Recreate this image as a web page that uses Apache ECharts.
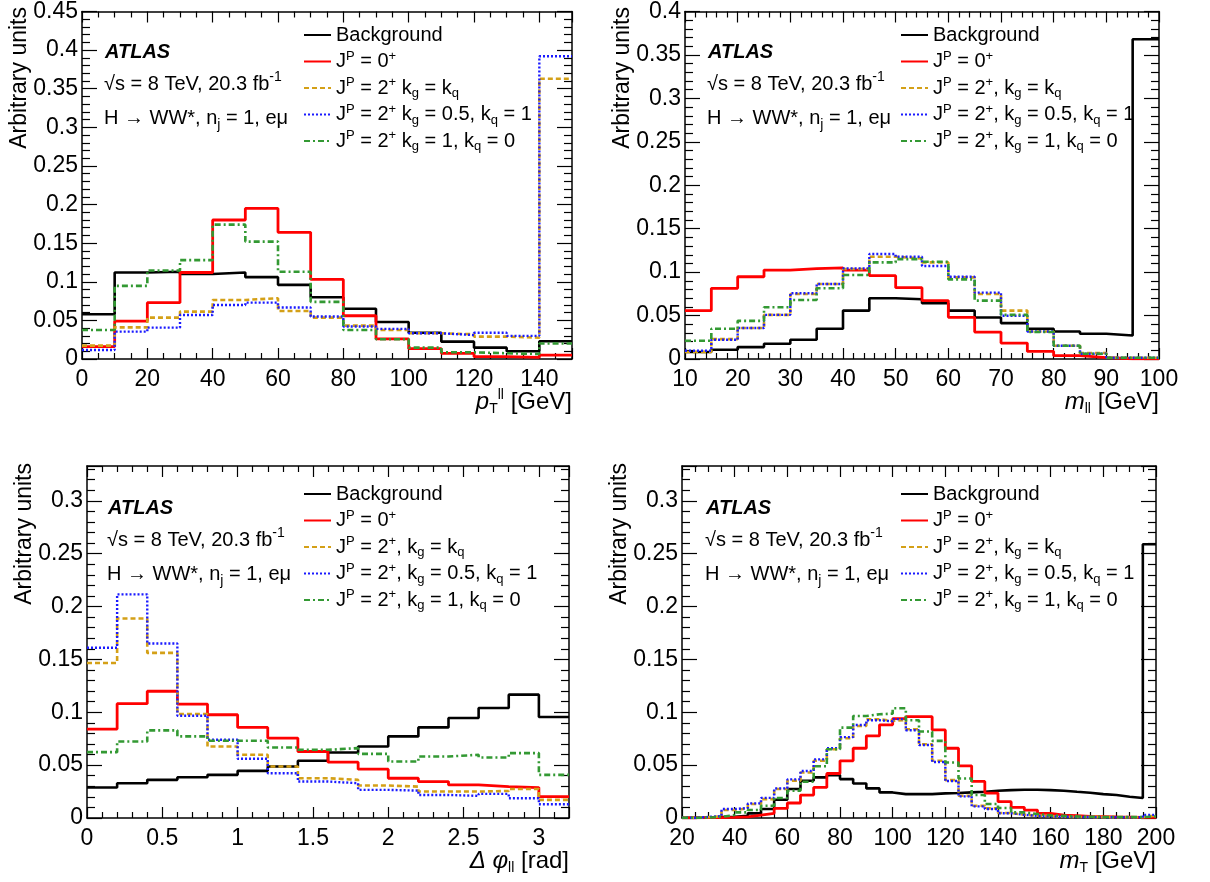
<!DOCTYPE html>
<html><head><meta charset="utf-8">
<script src="https://cdn.jsdelivr.net/npm/echarts@6/dist/echarts.min.js"></script>
<style>html,body{margin:0;padding:0;background:#fff}#c{width:1210px;height:882px}</style>
</head><body><div id="c"></div><script>
// ---------- data ----------
const ptEdges = [0,10,20,30,40,50,60,70,80,90,100,110,120,130,140,150];
const ptBkg  = [0.058,0.112,0.113,0.110,0.112,0.106,0.096,0.080,0.065,0.048,0.034,0.0225,0.0147,0.010,0.023];
const ptSM   = [0.016,0.049,0.073,0.112,0.180,0.195,0.164,0.103,0.056,0.026,0.0134,0.0074,0.003,0.002,0.005];
const ptKgKq = [0.0173,0.041,0.0536,0.0614,0.0765,0.0787,0.0622,0.0536,0.0432,0.0376,0.0333,0.032,0.029,0.0276,0.363];
const ptKg05 = [0.0117,0.0354,0.0406,0.057,0.070,0.073,0.0666,0.055,0.042,0.039,0.0333,0.031,0.034,0.030,0.392];
const ptKg1  = [0.0376,0.0947,0.1146,0.128,0.174,0.152,0.113,0.074,0.0376,0.0255,0.0147,0.0087,0.0074,0.0065,0.020];

const mllEdges = [10,15,20,25,30,35,40,45,50,55,60,65,70,75,80,85,90,95,100];
const mllBkg  = [0.008,0.0107,0.0137,0.0176,0.0221,0.0348,0.0557,0.070,0.0688,0.0642,0.0557,0.0477,0.0413,0.0348,0.0317,0.029,0.027,0.368];
const mllSM   = [0.0557,0.0814,0.0947,0.1024,0.104,0.105,0.1024,0.0959,0.0821,0.0672,0.048,0.031,0.0183,0.0087,0.0038,0.0015,0.0003,0.0002];
const mllKgKq = [0.008,0.0229,0.0356,0.0508,0.0749,0.0864,0.1036,0.1177,0.1158,0.1112,0.094,0.0749,0.0557,0.0317,0.0153,0.0069,0.0015,0.0015];
const mllKg05 = [0.0095,0.0221,0.0356,0.0508,0.0757,0.0864,0.1043,0.1208,0.1177,0.107,0.0947,0.0764,0.0497,0.0317,0.0153,0.0061,0.0015,0.0015];
const mllKg1  = [0.021,0.0348,0.0439,0.0596,0.068,0.0814,0.0967,0.1112,0.115,0.112,0.0917,0.0672,0.0508,0.031,0.0153,0.006,0.0015,0.0015];

const dphiEdges = [0,0.2,0.4,0.6,0.8,1.0,1.2,1.4,1.6,1.8,2.0,2.2,2.4,2.6,2.8,3.0,3.2];
const dphiBkg  = [0.0288,0.0329,0.0361,0.0386,0.0408,0.0446,0.0487,0.0541,0.062,0.0677,0.0772,0.0857,0.0946,0.104,0.1167,0.0955];
const dphiSM   = [0.0841,0.1082,0.1199,0.1078,0.0977,0.0857,0.0756,0.0629,0.0528,0.0462,0.0376,0.0345,0.0313,0.0297,0.0288,0.0202];
const dphiKgKq = [0.1467,0.1888,0.1562,0.0984,0.0677,0.0598,0.0487,0.0376,0.0361,0.0307,0.0297,0.025,0.025,0.0256,0.0275,0.0171];
const dphiKg05 = [0.161,0.2116,0.1651,0.0968,0.074,0.056,0.0424,0.0345,0.0329,0.0266,0.0259,0.0218,0.0209,0.0228,0.0187,0.013];
const dphiKg1  = [0.0623,0.0724,0.0829,0.0772,0.0731,0.0731,0.0667,0.0645,0.0661,0.0607,0.0534,0.0582,0.0598,0.0572,0.0614,0.0408];

const mtEdges = [20,25,30,35,40,45,50,55,60,65,70,75,80,85,90,95,100,105,110,115,120,125,130,135,140,145,150,155,160,165,170,175,180,185,190,195,200];
const mtBkg  = [0.0003,0.0005,0.0008,0.0012,0.002,0.0044,0.0085,0.0173,0.0274,0.0352,0.0384,0.0406,0.0368,0.0327,0.028,0.0242,0.0226,0.0226,0.0226,0.0233,0.0236,0.0242,0.0248,0.0258,0.0264,0.0267,0.0267,0.0264,0.0258,0.0248,0.0239,0.0226,0.0217,0.0201,0.0189,0.259];
const mtSM   = [0.0002,0.0003,0.0004,0.0006,0.001,0.0028,0.0044,0.0091,0.0142,0.0217,0.0289,0.0421,0.0541,0.066,0.0777,0.0881,0.094,0.0959,0.0959,0.0833,0.066,0.0494,0.0346,0.0236,0.0154,0.0101,0.0075,0.0044,0.0028,0.0022,0.0016,0.0013,0.001,0.0008,0.0006,0.0005];
const mtKgKq = [0.0003,0.0008,0.0015,0.0075,0.0091,0.0132,0.0179,0.0274,0.0352,0.0431,0.0541,0.0651,0.0755,0.0871,0.0934,0.0918,0.0928,0.084,0.0698,0.0541,0.0358,0.0211,0.0116,0.0091,0.0047,0.0031,0.0022,0.0016,0.0013,0.001,0.0009,0.0008,0.0007,0.0007,0.0007,0.0025];
const mtKg05 = [0.0003,0.0009,0.0018,0.0085,0.0094,0.0138,0.019,0.028,0.0365,0.0445,0.0555,0.066,0.0765,0.088,0.0925,0.0915,0.0935,0.083,0.069,0.053,0.035,0.0205,0.011,0.0085,0.0045,0.003,0.002,0.0015,0.0012,0.001,0.0009,0.0008,0.0007,0.0007,0.0007,0.003];
const mtKg1  = [0.0002,0.0004,0.001,0.0028,0.0053,0.0075,0.0116,0.0189,0.0258,0.0343,0.049,0.0651,0.0855,0.0965,0.0981,0.0987,0.1038,0.0925,0.0818,0.073,0.0525,0.0374,0.0217,0.0132,0.0094,0.0053,0.0038,0.0025,0.002,0.0015,0.0012,0.001,0.0009,0.0008,0.0008,0.0015];

const namesP1 = ['Background','J^P = 0^+','J^P = 2^+ k_g = k_q','J^P = 2^+ k_g = 0.5, k_q = 1','J^P = 2^+ k_g = 1, k_q = 0'];
const namesP  = ['Background','J^P = 0^+','J^P = 2^+, k_g = k_q','J^P = 2^+, k_g = 0.5, k_q = 1','J^P = 2^+, k_g = 1, k_q = 0'];

// ---------- style ----------
const FF = 'Liberation Sans';
const STY = [
  {color:'#000000', width:2.6, type:'solid'},
  {color:'#ff0000', width:2.8, type:'solid'},
  {color:'#d4a017', width:2.6, type:[5,3]},
  {color:'#1a1aff', width:2.4, type:[2,2]},
  {color:'#339933', width:2.6, type:[6,3,2,3]}
];

const grids = [
  {left:82, top:10, width:490, height:349},
  {left:685, top:10, width:474, height:349},
  {left:87, top:466, width:482, height:352},
  {left:682, top:466, width:474, height:352}
];
const xSpec = [
  {min:0, max:150, interval:20, split:4, showMax:false},
  {min:10, max:100, interval:10, split:5, showMax:true},
  {min:0, max:3.2, interval:0.5, split:5, showMax:false},
  {min:20, max:200, interval:20, split:4, showMax:true}
];
const ySpec = [
  {max:0.45, showMax:true},
  {max:0.4, showMax:true},
  {max:0.333, showMax:false},
  {max:0.333, showMax:false}
];

function axCommon(isX, g, spec, mirror){
  const len = isX ? 11 : 15, mlen = isX ? 6 : 8;
  return {
    type:'value', gridIndex:g, min:spec.min, max:spec.max, interval:spec.interval,
    position: isX ? (mirror ? 'top' : 'bottom') : (mirror ? 'right' : 'left'),
    axisLine:{show:true, onZero:false, lineStyle:{color:'#000', width:1.5}},
    axisTick:{show:true, inside:true, length:len, lineStyle:{color:'#000', width:1.2}},
    minorTick:{show:true, splitNumber:spec.split, length:mlen, lineStyle:{color:'#000', width:1.2}},
    splitLine:{show:false}, minorSplitLine:{show:false},
    axisLabel:{show:!mirror, fontSize:23, fontFamily:FF, color:'#000', margin: isX ? 9 : 4,
      showMaxLabel: spec.showMax, showMinLabel:true},
    silent:true
  };
}
const xAxes = [], yAxes = [];
for (let g=0; g<4; g++){
  xAxes.push(axCommon(true, g, xSpec[g], false));
  xAxes.push(axCommon(true, g, xSpec[g], true));
  const ys = {min:0, max:ySpec[g].max, interval:0.05, split:5, showMax:ySpec[g].showMax};
  yAxes.push(axCommon(false, g, ys, false));
  yAxes.push(axCommon(false, g, ys, true));
}

function hist(name, edges, vals, k, g){
  const data = edges.map((e,i)=>[e, vals[Math.min(i, vals.length-1)]]);
  return {type:'line', name, xAxisIndex:2*g, yAxisIndex:2*g, data, step:'end',
    symbol:'none', showSymbol:false, animation:false, silent:true, clip:true, z:2+k,
    lineStyle:{color:STY[k].color, width:STY[k].width, type:STY[k].type},
    itemStyle:{color:STY[k].color}};
}
const panels = [
  {edges:ptEdges, sets:[ptBkg,ptSM,ptKgKq,ptKg05,ptKg1], names:namesP1},
  {edges:mllEdges, sets:[mllBkg,mllSM,mllKgKq,mllKg05,mllKg1], names:namesP},
  {edges:dphiEdges, sets:[dphiBkg,dphiSM,dphiKgKq,dphiKg05,dphiKg1], names:namesP},
  {edges:mtEdges, sets:[mtBkg,mtSM,mtKgKq,mtKg05,mtKg1], names:namesP}
];
const series = [];
panels.forEach((p,g)=>p.sets.forEach((v,k)=>series.push(hist(p.names[k], p.edges, v, k, g))));

const RICH_L = {
  sup:{fontSize:13, fontFamily:FF, color:'#000', lineHeight:12, verticalAlign:'top'},
  sub:{fontSize:13, fontFamily:FF, color:'#000', lineHeight:12, verticalAlign:'bottom'}
};
const fmt = n => n.replace(/\^(.)/g,'{sup|$1}').replace(/_(.)/g,'{sub|$1}');
function legend(left, top, names){
  return {orient:'vertical', left, top, padding:0, itemWidth:27, itemHeight:14, itemGap:2.5,
    selectedMode:false, data:names, formatter:fmt,
    itemStyle:{opacity:0, borderWidth:0},
    textStyle:{fontSize:20, fontFamily:FF, color:'#000', lineHeight:24, rich:RICH_L}};
}
const legends = [legend(303,23,namesP1), legend(900,23,namesP), legend(303,482,namesP), legend(900,482,namesP)];

// ---------- text ----------
const F = (s, st) => (st||'') + ' ' + s + 'px "Liberation Sans"';
const RICH_G = {
  sup:{font:F(14), fill:'#000', lineHeight:12, verticalAlign:'top'},
  sub:{font:F(14), fill:'#000', lineHeight:12, verticalAlign:'bottom'},
  i:{font:F(24,'italic'), fill:'#000'}
};
function txt(x, y, text, font, extra){
  return {type:'text', x, y, silent:true, z:50,
    style:Object.assign({text, font, fill:'#000', align:'left', verticalAlign:'middle', lineHeight:28, rich:RICH_G}, extra||{})};
}
const graphic = [];
const labelPos = [[105,10],[708,10],[108,466],[706,466]];
labelPos.forEach(([x,t])=>{
  graphic.push(txt(x, t+42, 'ATLAS', F(20,'italic bold')));
  graphic.push(txt(x-1, t+74, '√s = 8 TeV, 20.3 fb{sup|-1}', F(20)));
  graphic.push(txt(x-1, t+108, 'H → WW*, n{sub|j} = 1, eμ', F(20)));
});
// y titles
grids.forEach(gr=>{
  graphic.push({type:'text', x:gr.left-62, y:gr.top-3, rotation:Math.PI/2, silent:true, z:50,
    style:{text:'Arbitrary units', font:F(23), fill:'#000', align:'right', verticalAlign:'middle'}});
});
// x titles
const xTitles = ['{i|p}{sub|T}{sup|ll} [GeV]','{i|m}{sub|ll} [GeV]','{i|Δ φ}{sub|ll} [rad]','{i|m}{sub|T} [GeV]'];
grids.forEach((gr,g)=>{
  graphic.push(txt(gr.left+gr.width, gr.top+gr.height+43, xTitles[g], F(24), {align:'right'}));
});

const chart = echarts.init(document.getElementById('c'), null, {renderer:'canvas'});
chart.setOption({
  backgroundColor:'#ffffff', animation:false,
  grid:grids.map(g=>Object.assign({containLabel:false}, g)),
  xAxis:xAxes, yAxis:yAxes, legend:legends, series, graphic
});
</script></body></html>
